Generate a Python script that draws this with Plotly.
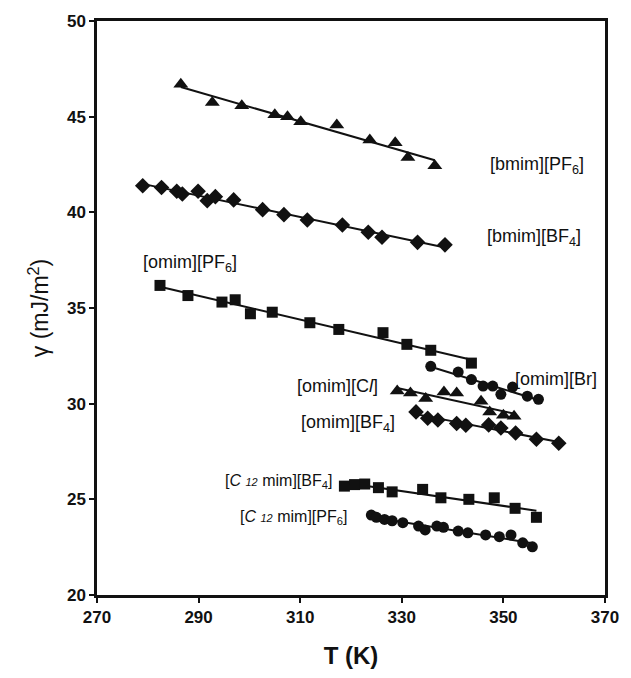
import numpy as np
import plotly.graph_objects as go

# ---------------- data ----------------
bmim_pf6_T = [286.5, 292.7, 298.5, 305.0, 307.5, 310.1, 317.2, 323.7, 328.7, 331.2, 336.5]
bmim_pf6_g = [46.70, 45.74, 45.57, 45.10, 45.00, 44.73, 44.56, 43.78, 43.64, 42.87, 42.44]

bmim_bf4_T = [279.0, 282.7, 285.7, 286.8, 289.9, 291.7, 293.3, 296.9, 302.6, 306.8, 311.4, 318.3, 323.4, 326.1, 333.1, 338.5]
bmim_bf4_g = [41.39, 41.30, 41.10, 40.96, 41.10, 40.61, 40.82, 40.65, 40.14, 39.88, 39.60, 39.34, 38.96, 38.70, 38.43, 38.30]

omim_pf6_T = [282.4, 287.9, 294.6, 297.2, 300.2, 304.5, 311.9, 317.6, 326.3, 331.0, 335.7, 343.7]
omim_pf6_g = [36.18, 35.65, 35.31, 35.43, 34.70, 34.78, 34.23, 33.88, 33.71, 33.10, 32.79, 32.12]

omim_br_T = [335.7, 341.1, 343.7, 346.0, 347.9, 349.5, 351.8, 354.7, 356.9]
omim_br_g = [31.95, 31.65, 31.26, 30.92, 30.92, 30.49, 30.87, 30.39, 30.23]

omim_cl_T = [329.1, 331.7, 334.7, 338.3, 340.8, 345.6, 347.3, 350.0, 352.1]
omim_cl_g = [30.66, 30.56, 30.27, 30.61, 30.56, 30.13, 29.57, 29.39, 29.34]

omim_bf4_T = [332.8, 335.1, 337.1, 340.8, 342.6, 347.1, 349.5, 352.4, 356.5, 360.9]
omim_bf4_g = [29.57, 29.24, 29.15, 28.96, 28.87, 28.89, 28.73, 28.47, 28.14, 27.93]

c12_bf4_T = [318.7, 320.7, 322.7, 325.4, 328.1, 334.1, 337.7, 343.2, 348.2, 352.3, 356.5]
c12_bf4_g = [25.69, 25.77, 25.80, 25.61, 25.39, 25.52, 25.08, 25.00, 25.08, 24.53, 24.06]

c12_pf6_T = [324.0, 325.0, 326.6, 328.1, 330.2, 333.3, 334.6, 336.9, 338.2, 341.1, 343.0, 346.5, 349.2, 351.5, 353.8, 355.7]
c12_pf6_g = [24.18, 24.06, 23.95, 23.88, 23.78, 23.60, 23.40, 23.60, 23.54, 23.34, 23.25, 23.14, 23.05, 23.14, 22.73, 22.52]

x_ticks = [270, 290, 310, 330, 350, 370]
y_ticks = [20, 25, 30, 35, 40, 45, 50]

series = [
    (bmim_pf6_T, bmim_pf6_g, "triangle-up"),
    (bmim_bf4_T, bmim_bf4_g, "diamond"),
    (omim_pf6_T, omim_pf6_g, "square"),
    (omim_br_T, omim_br_g, "circle"),
    (omim_cl_T, omim_cl_g, "triangle-up"),
    (omim_bf4_T, omim_bf4_g, "diamond"),
    (c12_bf4_T, c12_bf4_g, "square"),
    (c12_pf6_T, c12_pf6_g, "circle"),
]

# text, x, y, anchor, font size
labels = [
    ("[bmim][PF<sub>6</sub>]", 346.9, 42.45, "left", 18),
    ("[bmim][BF<sub>4</sub>]", 346.3, 38.7, "left", 18),
    ("[omim][PF<sub>6</sub>]", 278.7, 37.3, "left", 18),
    ("[omim][Br]", 351.8, 31.3, "left", 18),
    ("[omim][C<i>l</i>]", 325.8, 30.9, "right", 18),
    ("[omim][BF<sub>4</sub>]", 329.1, 28.95, "right", 18),
    ("[<i>C</i> <span style='font-size:11px'><i>12</i></span> mim][BF<sub>4</sub>]", 316.6, 25.92, "right", 16),
    ("[<i>C</i> <span style='font-size:11px'><i>12</i></span> mim][PF<sub>6</sub>]", 319.6, 24.05, "right", 16),
]

marker_size = {"triangle-up": 13, "diamond": 12, "circle": 11, "square": 11}

ink = "#111111"
fig = go.Figure()
for T, g, sym in series:
    T = np.array(T); g = np.array(g)
    k, b = np.polyfit(T, g, 1)
    xs = np.array([T.min(), T.max()])
    fig.add_trace(go.Scatter(x=xs, y=k * xs + b, mode="lines",
                             line=dict(color=ink, width=2), showlegend=False,
                             hoverinfo="skip"))
    fig.add_trace(go.Scatter(x=T, y=g, mode="markers",
                             marker=dict(symbol=sym, color=ink,
                                         size=marker_size[sym],
                                         line=dict(width=0)),
                             showlegend=False))

for text, x, y, anchor, fs in labels:
    fig.add_annotation(x=x, y=y, xref="x", yref="y", text=text, showarrow=False,
                       xanchor=anchor, yanchor="middle",
                       font=dict(family="Liberation Sans", size=fs, color=ink))

axis_common = dict(showline=True, linecolor=ink, linewidth=2.5, mirror=True,
                   ticks="outside", ticklen=5, tickwidth=2, tickcolor=ink,
                   showgrid=False, zeroline=False,
                   tickfont=dict(family="Liberation Sans", size=17, color=ink, weight="bold"))

fig.update_xaxes(range=[270, 370], tickvals=x_ticks,
                 title=dict(text="T (K)", standoff=22,
                            font=dict(family="Liberation Sans", size=24, color=ink, weight="bold")),
                 **axis_common)
fig.update_yaxes(range=[20, 50], tickvals=y_ticks,
                 title=dict(text="γ (mJ/m<sup>2</sup>)", standoff=12,
                            font=dict(family="Liberation Sans", size=23, color=ink)),
                 **axis_common)

fig.update_layout(width=631, height=678, margin=dict(l=97, r=21, t=20, b=83),
                  paper_bgcolor="white", plot_bgcolor="white")

fig.write_html("out.html")
